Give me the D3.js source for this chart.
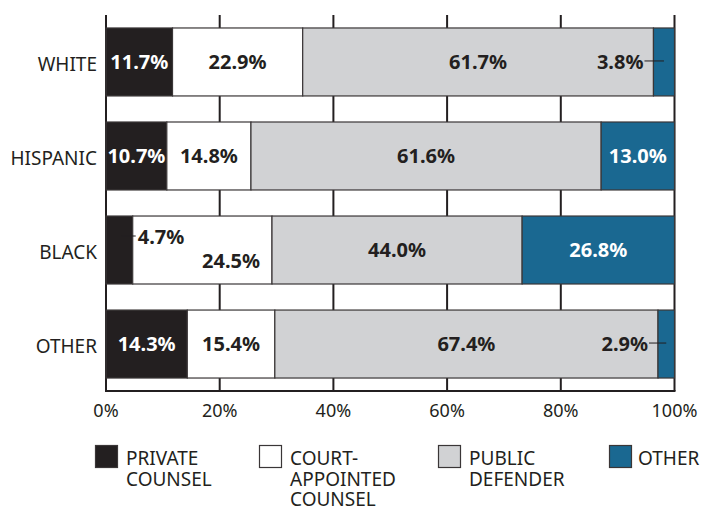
<!DOCTYPE html>
<html>
<head>
<meta charset="utf-8">
<script src="https://cdn.jsdelivr.net/npm/d3@7"></script>
<style>
  html, body { margin: 0; padding: 0; background: #fff; }
  svg { display: block; font-family: "Noto Sans", sans-serif; }
</style>
</head>
<body>
<svg id="chart" width="705" height="506"></svg>
<script>
// Type of counsel by defendant race (percent of cases)
const races = ["WHITE", "HISPANIC", "BLACK", "OTHER"];
const counselTypes = ["private", "court", "public", "other"];
const counselLabels = [["PRIVATE", "COUNSEL"], ["COURT-", "APPOINTED", "COUNSEL"], ["PUBLIC", "DEFENDER"], ["OTHER"]];
const privateCounsel = [11.7, 10.7, 4.7, 14.3];
const courtAppointed = [22.9, 14.8, 24.5, 15.4];
const publicDefender = [61.7, 61.6, 44.0, 67.4];
const otherCounsel = [3.8, 13.0, 26.8, 2.9];
const xTicks = [0, 20, 40, 60, 80, 100];

const fills = ["#231f20", "#ffffff", "#d1d2d4", "#1a6891"];
const textFills = ["#ffffff", "#231f20", "#231f20", "#ffffff"];
const ink = "#231f20";

const rows = races.map((r, i) => ({
  race: r,
  private: privateCounsel[i],
  court: courtAppointed[i],
  public: publicDefender[i],
  other: otherCounsel[i]
}));

const svg = d3.select("#chart");
const x = d3.scaleLinear().domain([0, 100]).range([106, 674.5]).clamp(true);
const y = d3.scaleBand().domain(races).range([15, 391]).paddingInner(0.277).paddingOuter(0.138);

const series = d3.stack().keys(counselTypes)(rows);

// vertical gridlines
svg.append("g").selectAll("line").data(xTicks).join("line")
  .attr("x1", d => x(d)).attr("x2", d => x(d))
  .attr("y1", 15).attr("y2", 391)
  .attr("stroke", ink).attr("stroke-width", 2);

// baseline
svg.append("line")
  .attr("x1", x(0) - 1).attr("x2", x(100) + 1)
  .attr("y1", 391).attr("y2", 391)
  .attr("stroke", ink).attr("stroke-width", 2);

// stacked segments
const layers = svg.append("g").selectAll("g").data(series).join("g")
  .attr("fill", (d, i) => fills[i]);

layers.selectAll("rect").data(d => d.map(s => ({ s, key: d.key }))).join("rect")
  .attr("x", d => x(d.s[0]))
  .attr("width", d => x(d.s[1]) - x(d.s[0]))
  .attr("y", d => y(d.s.data.race))
  .attr("height", y.bandwidth())
  .attr("stroke", "#3a3637")
  .attr("stroke-width", 1.2);

// value labels
const labelG = svg.append("g")
  .attr("font-weight", 700)
  .attr("font-size", 20);

series.forEach((layer, li) => {
  layer.forEach((s, ri) => {
    const v = s.data[layer.key];
    const x0 = x(s[0]), x1 = x(s[1]);
    const cy = y(s.data.race) + y.bandwidth() / 2;
    const txt = v.toFixed(1) + "%";
    const small = v < 5;
    if (small && li === counselTypes.length - 1) {
      // narrow last segment: label to the left with a leader
      const mid = (x0 + x1) / 2;
      labelG.append("line")
        .attr("x1", x0 - 9).attr("x2", mid)
        .attr("y1", cy - 1).attr("y2", cy - 1)
        .attr("stroke", ink).attr("stroke-width", 1);
      labelG.append("text")
        .attr("x", x0 - 10).attr("y", cy).attr("dy", "0.35em")
        .attr("text-anchor", "end").attr("fill", ink).text(txt);
    } else if (small && li === 0) {
      // narrow first segment: label to the right with a leader, raised
      const mid = (x0 + x1) / 2;
      const ly = cy - 13;
      labelG.append("line")
        .attr("x1", mid + 2).attr("x2", x1)
        .attr("y1", ly - 1).attr("y2", ly - 1)
        .attr("stroke", ink).attr("stroke-width", 1);
      labelG.append("line")
        .attr("x1", x1).attr("x2", x1 + 3)
        .attr("y1", ly - 1).attr("y2", ly - 1)
        .attr("stroke", ink).attr("stroke-width", 1);
      labelG.append("text")
        .attr("x", x1 + 5).attr("y", ly).attr("dy", "0.35em")
        .attr("text-anchor", "start").attr("fill", ink).text(txt);
    } else {
      const prev = li > 0 ? series[li - 1][ri] : null;
      const prevSmallCallout = prev && li === 1 && prev.data[series[0].key] < 5;
      if (prevSmallCallout) {
        labelG.append("text")
          .attr("x", x1 - 12).attr("y", cy + 11).attr("dy", "0.35em")
          .attr("text-anchor", "end").attr("fill", textFills[li]).text(txt);
      } else {
        labelG.append("text")
          .attr("x", (x0 + x1) / 2).attr("y", cy).attr("dy", "0.35em")
          .attr("text-anchor", "middle").attr("fill", textFills[li]).text(txt);
      }
    }
  });
});

// category labels
svg.append("g").selectAll("text").data(races).join("text")
  .attr("x", 97)
  .attr("y", d => y(d) + y.bandwidth() / 2 + 2)
  .attr("dy", "0.35em")
  .attr("text-anchor", "end")
  .attr("font-size", 19)
  .attr("fill", ink)
  .text(d => d);

// x axis tick labels
svg.append("g").selectAll("text").data(xTicks).join("text")
  .attr("x", d => x(d))
  .attr("y", 411)
  .attr("dy", "0.35em")
  .attr("text-anchor", "middle")
  .attr("font-size", 18)
  .attr("fill", ink)
  .text(d => d + "%");

// legend
const legendX = [95, 259, 438, 609];
const legend = svg.append("g").selectAll("g").data(counselTypes).join("g")
  .attr("transform", (d, i) => `translate(${legendX[i]},445)`);
legend.append("rect")
  .attr("x", 0.5).attr("y", 0.5)
  .attr("width", 22).attr("height", 22)
  .attr("fill", (d, i) => fills[i])
  .attr("stroke", "#3a3637").attr("stroke-width", 1.2);
legend.each(function (d, i) {
  const t = d3.select(this).append("text")
    .attr("x", i === 3 ? 29 : 31)
    .attr("font-size", 19)
    .attr("fill", ink);
  counselLabels[i].forEach((line, k) => {
    t.append("tspan").attr("x", i === 3 ? 29 : 31).attr("y", 20 + k * 20.5).text(line);
  });
});
</script>
</body>
</html>
